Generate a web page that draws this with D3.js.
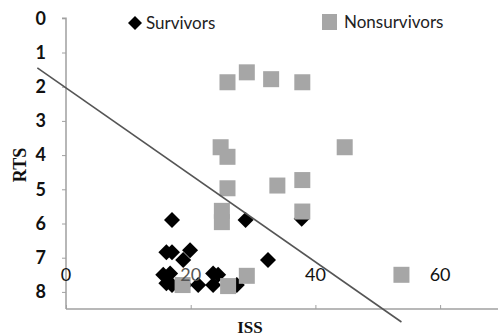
<!DOCTYPE html>
<html><head><meta charset="utf-8">
<script src="https://cdn.jsdelivr.net/npm/d3@7"></script>
<style>body{margin:0;background:#fff}svg{display:block}</style>
</head><body>
<svg id="c" width="498" height="336"></svg>
<script>
const survivorsISS = [17.0,28.8,37.8,16.1,17.0,19.9,18.8,32.4,15.6,16.7,16.1,17.0,21.2,23.6,24.4,23.6,27.4,19.0];
const survivorsRTS = [5.9,5.9,5.86,6.84,6.84,6.78,7.07,7.07,7.5,7.46,7.75,7.8,7.8,7.46,7.5,7.8,7.8,7.8];
const nonsurvivorsISS = [25.9,29.0,32.9,37.9,24.8,25.9,44.7,37.9,33.9,25.9,25.0,25.0,37.9,29.0,26.0,53.8,18.7];
const nonsurvivorsRTS = [1.87,1.58,1.78,1.87,3.77,4.05,3.77,4.73,4.89,4.97,5.63,5.96,5.65,7.53,7.83,7.5,7.8];
const trendISS = [-4.6, 53.8];
const trendRTS = [1.45, 8.88];
const yTicks = [0,1,2,3,4,5,6,7,8];
const xTicks = [0,20,40,60];

const svg = d3.select("#c");
const x = d3.scaleLinear().domain([0,70]).range([66, 66+70*6.235]);
const y = d3.scaleLinear().domain([0,8.5]).range([18.3, 309]);
const sans = "Lato, 'Open Sans', sans-serif";
const serif = "'Liberation Serif', 'DejaVu Serif', serif";

// y axis
const ya = svg.append("g").attr("transform","translate(66,0)")
  .call(d3.axisLeft(y).tickValues(yTicks).tickSize(4).tickPadding(16).tickFormat(d3.format("d")));
ya.select(".domain").attr("stroke","#a0a0a0").attr("stroke-width",1.5).attr("d","M-4,"+y(0)+"H0V"+y(8.5));
ya.selectAll(".tick line").attr("stroke","#a0a0a0");
ya.selectAll(".tick text").attr("font-family",sans).attr("font-weight","bold").attr("font-size",18).attr("fill","#111");

// x axis
const xa = svg.append("g").attr("transform","translate(0,"+y(8.5)+")")
  .call(d3.axisBottom(x).tickValues(xTicks).tickSize(-4).tickFormat(""));
xa.select(".domain").attr("stroke","#a0a0a0").attr("stroke-width",1.5).attr("d","M"+x(0)+",0H498");
xa.selectAll(".tick line").attr("stroke","#a0a0a0");

const sq = 16;
// survivors diamonds
svg.append("g").selectAll("path").data(survivorsISS).join("path")
  .attr("d","M0,-8L8,0L0,8L-8,0Z")
  .attr("transform",(d,i)=>"translate("+x(d)+","+y(survivorsRTS[i])+")")
  .attr("fill","#000");

// nonsurvivors squares
svg.append("g").selectAll("rect").data(nonsurvivorsISS).join("rect")
  .attr("x",(d,i)=>x(d)-sq/2).attr("y",(d,i)=>y(nonsurvivorsRTS[i])-sq/2)
  .attr("width",sq).attr("height",sq).attr("fill","#a6a6a6");

// x tick labels
svg.append("g").selectAll("text").data(xTicks).join("text")
  .attr("x",d=>x(d)).attr("y",y(7.5)).attr("dy","0.35em")
  .attr("text-anchor","middle").attr("font-family",sans).attr("font-size",18)
  .attr("fill",d=>d===20?"#555":"#111").text(d=>d);

// trend line
svg.append("line")
  .attr("x1",x(trendISS[0])).attr("y1",y(trendRTS[0]))
  .attr("x2",x(trendISS[1])).attr("y2",y(trendRTS[1]))
  .attr("stroke","#555").attr("stroke-width",1.6);

// legend
svg.append("path").attr("d","M0,-7L7,0L0,7L-7,0Z").attr("transform","translate(135,23)").attr("fill","#000");
svg.append("text").attr("x",146).attr("y",23).attr("dy","0.35em").attr("font-family",sans).attr("font-size",17).attr("fill","#222").text("Survivors");
svg.append("rect").attr("x",322).attr("y",14).attr("width",15).attr("height",16).attr("fill","#a6a6a6");
svg.append("text").attr("x",344).attr("y",22).attr("dy","0.35em").attr("font-family",sans).attr("font-size",17).attr("fill","#222").text("Nonsurvivors");

// axis titles
svg.append("text").attr("transform","translate(26,165) rotate(-90)").attr("text-anchor","middle")
  .attr("font-family",serif).attr("font-weight","bold").attr("font-size",18).attr("fill","#111").text("RTS");
svg.append("text").attr("x",250).attr("y",333).attr("text-anchor","middle")
  .attr("font-family",serif).attr("font-weight","bold").attr("font-size",17).attr("fill","#111").text("ISS");
</script>
</body></html>
